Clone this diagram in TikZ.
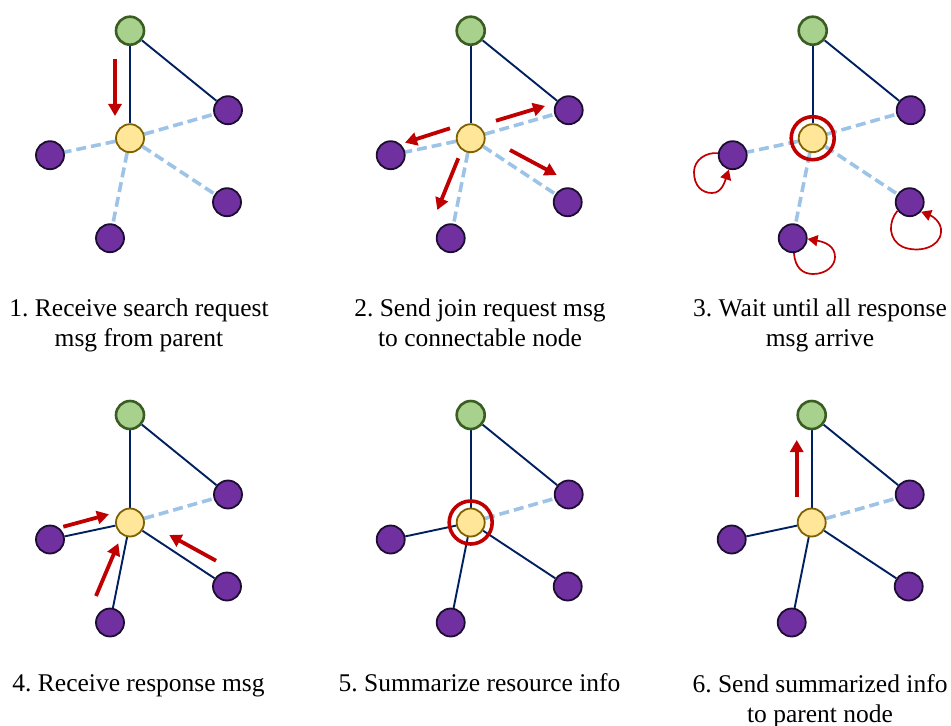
\documentclass[tikz,border=0pt]{standalone}
\usepackage{fontspec}
\setmainfont{Liberation Serif}
\frenchspacing
\usetikzlibrary{arrows.meta,backgrounds}
\definecolor{gfill}{HTML}{A9D18E}
\definecolor{gdraw}{HTML}{3A5D22}
\definecolor{yfill}{HTML}{FFE699}
\definecolor{ydraw}{HTML}{806000}
\definecolor{pfill}{HTML}{7030A0}
\definecolor{pdraw}{HTML}{1C0E30}
\definecolor{navy}{HTML}{002060}
\definecolor{lblue}{HTML}{9DC3E6}
\definecolor{myred}{HTML}{C00000}
\tikzset{
 parentnode/.style={circle, fill=gfill, draw=gdraw, line width=2.6bp, minimum size=28bp, inner sep=0pt},
 selfnode/.style={circle, fill=yfill, draw=ydraw, line width=1.8bp, minimum size=28bp, inner sep=0pt},
 peernode/.style={circle, fill=pfill, draw=pdraw, line width=1.8bp, minimum size=28bp, inner sep=0pt},
 link/.style={draw=navy, line width=1.9bp},
 cand/.style={draw=lblue, line width=3.6bp, dash pattern=on 10bp off 5bp},
 msg/.style={draw=myred, line width=3.8bp, -{Triangle[length=12bp,width=13bp]}},
 loopmsg/.style={draw=myred, line width=1.7bp, -{Triangle[length=10bp,width=11bp]}},
 focus/.style={circle, draw=myred, line width=3.6bp, minimum size=43bp, inner sep=0pt},
 caption/.style={font=\fontsize{25.5bp}{30bp}\selectfont, align=center, anchor=base, inner sep=0pt}
}
\newcommand\netnodes[3]{%
 \node[parentnode] (#1g) at ({#2},{#3}) {};
 \node[selfnode] (#1y) at ({#2},{#3+107.5}) {};
 \node[peernode] (#1rt) at ({#2+98},{#3+79.5}) {};
 \node[peernode] (#1l) at ({#2-80},{#3+124.5}) {};
 \node[peernode] (#1rb) at ({#2+97},{#3+171.5}) {};
 \node[peernode] (#1b) at ({#2-20},{#3+207.5}) {};
}
\newcommand\joinedges[1]{%
 \begin{scope}[on background layer]
 \draw[link] (#1g) -- (#1y);
 \draw[link] (#1g) -- (#1rt);
 \draw[cand] (#1y) -- (#1rt);
 \draw[cand] (#1y) -- (#1l);
 \draw[cand] (#1y) -- (#1rb);
 \draw[cand] (#1y) -- (#1b);
 \end{scope}
}
\newcommand\doneedges[1]{%
 \begin{scope}[on background layer]
 \draw[link] (#1g) -- (#1y);
 \draw[link] (#1g) -- (#1rt);
 \draw[cand] (#1y) -- (#1rt);
 \draw[link] (#1y) -- (#1l);
 \draw[link] (#1y) -- (#1rb);
 \draw[link] (#1y) -- (#1b);
 \end{scope}
}
\begin{document}
\begin{tikzpicture}[x=1bp,y=-1bp]
\useasboundingbox (0,0) rectangle (951,726);
% panel 1
\netnodes{p1}{130}{30.7}
\joinedges{p1}
\coordinate (a1s) at (115,59);
\coordinate (a1e) at (115,116);
\draw[msg] (a1s) -- (a1e);
\node[caption] (c1) at (139,346.5) {1. Receive search request\\msg from parent};
% panel 2
\netnodes{p2}{470.7}{30.7}
\joinedges{p2}
\coordinate (a2s) at (496,120.7);
\coordinate (a2e) at (545,106);
\coordinate (a3s) at (450,128.3);
\coordinate (a3e) at (405,142.7);
\coordinate (a4s) at (510,150);
\coordinate (a4e) at (556.7,175);
\coordinate (a5s) at (458.3,158.3);
\coordinate (a5e) at (437.3,210);
\draw[msg] (a2s) -- (a2e);
\draw[msg] (a3s) -- (a3e);
\draw[msg] (a4s) -- (a4e);
\draw[msg] (a5s) -- (a5e);
\node[caption] (c2) at (480,346.5) {2. Send join request msg\\to connectable node};
% panel 3
\netnodes{p3}{812.7}{30.7}
\joinedges{p3}
\node[focus] (f3) at (p3y) {};
\draw[loopmsg] (p3l.172) .. controls (706,152) and (694,160) .. (694,172)
  .. controls (694,186) and (702,193) .. (712,193)
  .. controls (722,193) and (725,181) .. (p3l.255);
\draw[loopmsg] (p3b.275) .. controls (795,268) and (803,274) .. (813,274)
  .. controls (826,274) and (835,266) .. (835,257)
  .. controls (835,246) and (825,242) .. (p3b.-3);
\draw[loopmsg] (p3rb.215) .. controls (888,222) and (888,240) .. (903,247)
  .. controls (918,253) and (940,248) .. (941,232)
  .. controls (942,222) and (932,216) .. (p3rb.-40);
\node[caption] (c3) at (820,346.5) {3. Wait until all response\\msg arrive};
% panel 4
\netnodes{p4}{130}{415}
\doneedges{p4}
\coordinate (a6s) at (63.3,526.7);
\coordinate (a6e) at (109,514.3);
\coordinate (a7s) at (96,596);
\coordinate (a7e) at (118.3,543.3);
\coordinate (a8s) at (216,560.7);
\coordinate (a8e) at (169.3,535);
\draw[msg] (a6s) -- (a6e);
\draw[msg] (a7s) -- (a7e);
\draw[msg] (a8s) -- (a8e);
\node[caption] (c4) at (138.5,691.7) {4. Receive response msg};
% panel 5
\netnodes{p5}{470.7}{415}
\doneedges{p5}
\node[focus] (f5) at (p5y) {};
\node[caption] (c5) at (479.5,691.7) {5. Summarize resource info};
% panel 6
\netnodes{p6}{811.7}{415}
\doneedges{p6}
\coordinate (a9s) at (796.7,496.7);
\coordinate (a9e) at (796.7,440);
\draw[msg] (a9s) -- (a9e);
\node[caption] (c6) at (820,722) {6. Send summarized info\\to parent node};
\end{tikzpicture}
\end{document}
